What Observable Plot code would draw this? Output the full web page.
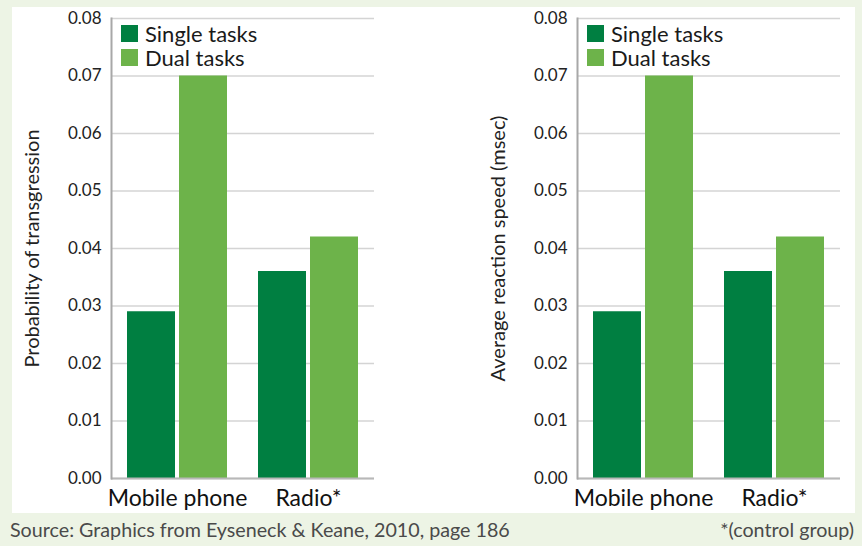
<!DOCTYPE html>
<html>
<head>
<meta charset="utf-8">
<script src="https://cdn.jsdelivr.net/npm/d3@7"></script>
<script src="https://cdn.jsdelivr.net/npm/@observablehq/plot@0.6"></script>
<style>
  html, body { margin: 0; padding: 0; }
  body {
    width: 862px; height: 546px; position: relative; overflow: hidden;
    background: #edf4e5; font-family: Lato, "Open Sans", sans-serif; color: #222;
  }
  #panel { position: absolute; left: 12px; top: 7px; width: 843px; height: 506px; background: #fff; }
  .chart { position: absolute; top: 0; }
  .chart svg { display: block; }
  .legend { position: absolute; top: 14.5px; font-size: 22px; color: #1a1a1a; }
  .legend .row { display: flex; align-items: center; height: 24px; line-height: 24px; }
  .legend .sw { width: 17px; height: 17px; margin-right: 7px; flex: none; }
  .caption { position: absolute; top: 518px; font-size: 19.7px; color: #4a4a4a; white-space: nowrap; line-height: 1.2; }
</style>
</head>
<body>
<div id="panel">
  <div class="chart" id="left" style="left:0px"></div>
  <div class="chart" id="right" style="left:419px"></div>
</div>
<div class="caption" style="left:10px">Source: Graphics from Eyseneck &amp; Keane, 2010, page 186</div>
<div class="caption" style="right:8px">*(control group)</div>
<script>
// Situations and task conditions
const categories = ["Mobile phone", "Radio*"];
const tasks = ["Single tasks", "Dual tasks"];
const taskColors = ["#007f41", "#6db34a"];

// Probability of transgression
const transgressionSingle = [0.029, 0.036];
const transgressionDual = [0.070, 0.042];

// Average reaction speed (msec)
const reactionSingle = [0.029, 0.036];
const reactionDual = [0.070, 0.042];

// Y-axis ticks
const yTicks = [0, 0.01, 0.02, 0.03, 0.04, 0.05, 0.06, 0.07, 0.08];

function rowsFor(values, task) {
  return categories.map((c, i) => ({category: c, task, value: values[i]}));
}

// Each category band (100px wide) holds two bars side by side with a 4px gap:
// the single-task bar takes the left half, the dual-task bar the right half.
const halfInset = 52;

function barChart({single, dual, title, width, marginLeft, marginRight}) {
  return Plot.plot({
    width,
    height: 506,
    marginTop: 11,
    marginBottom: 35,
    marginLeft,
    marginRight,
    style: {background: "transparent", fontFamily: "Lato, 'Open Sans', sans-serif", color: "#222"},
    x: {domain: categories, paddingInner: 0.24, paddingOuter: 0.12, axis: null},
    y: {domain: [0, 0.08], axis: null},
    color: {domain: tasks, range: taskColors},
    marks: [
      Plot.gridY(yTicks, {stroke: "#d4d4d4", strokeOpacity: 1, strokeWidth: 1.5}),
      Plot.barY(rowsFor(single, tasks[0]), {x: "category", y: "value", fill: "task", insetRight: halfInset}),
      Plot.barY(rowsFor(dual, tasks[1]), {x: "category", y: "value", fill: "task", insetLeft: halfInset}),
      Plot.ruleY([0], {stroke: "#b8b8b8", strokeWidth: 2}),
      Plot.frame({anchor: "left", stroke: "#a8a8a8", strokeWidth: 2}),
      Plot.axisY(yTicks, {tickSize: 0, tickPadding: 10, tickFormat: d3.format(".2f"), fontSize: 17, label: null}),
      Plot.axisX({tickSize: 0, tickPadding: 11, fontSize: 23, label: null, fill: "#111"}),
      Plot.text([title], {frameAnchor: "left", textAnchor: "middle", rotate: -90, dx: -79, fontSize: 20, fill: "#222"})
    ]
  });
}

function legend(left) {
  const el = document.createElement("div");
  el.className = "legend";
  el.style.left = left + "px";
  tasks.forEach((t, i) => {
    const row = document.createElement("div");
    row.className = "row";
    const sw = document.createElement("div");
    sw.className = "sw";
    sw.style.background = taskColors[i];
    const label = document.createElement("span");
    label.textContent = t;
    row.append(sw, label);
    el.append(row);
  });
  return el;
}

const leftBox = document.getElementById("left");
leftBox.append(barChart({
  single: transgressionSingle, dual: transgressionDual,
  title: "Probability of transgression",
  width: 419, marginLeft: 99, marginRight: 57
}));
leftBox.append(legend(109));

const rightBox = document.getElementById("right");
rightBox.append(barChart({
  single: reactionSingle, dual: reactionDual,
  title: "Average reaction speed (msec)",
  width: 424, marginLeft: 146, marginRight: 15
}));
rightBox.append(legend(156));
</script>
</body>
</html>
